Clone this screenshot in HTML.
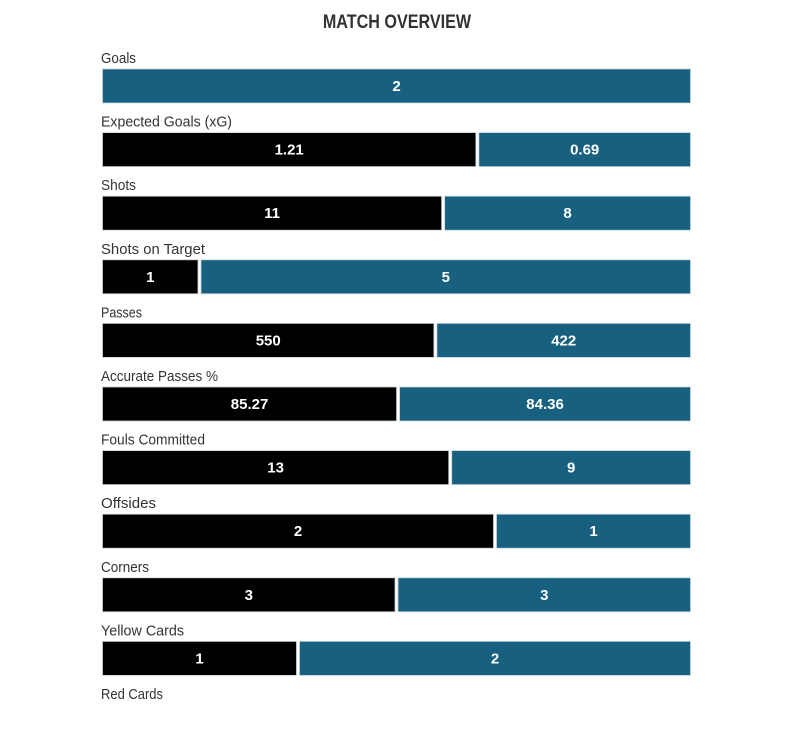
<!DOCTYPE html>
<html><head><meta charset="utf-8">
<style>
html,body{margin:0;padding:0;background:#fff;}
svg{display:block;font-family:"Liberation Sans",sans-serif;}
</style></head>
<body>
<svg id="chart" width="794" height="746">
<text x="397" y="28" text-anchor="middle" font-size="19" font-weight="bold" fill="#333" transform="translate(397,0) scale(0.85,1) translate(-397,0)">MATCH OVERVIEW</text>
</svg>
<script>
const categories = ["Goals","Expected Goals (xG)","Shots","Shots on Target","Passes","Accurate Passes %","Fouls Committed","Offsides","Corners","Yellow Cards","Red Cards"];
const homeValues = [0,1.21,11,1,550,85.27,13,2,3,1,0];
const awayValues = [2,0.69,8,5,422,84.36,9,1,3,2,0];
const homeLabels = ["0","1.21","11","1","550","85.27","13","2","3","1","0"];
const awayLabels = ["2","0.69","8","5","422","84.36","9","1","3","2","0"];

const svg = document.getElementById('chart');
const NS = 'http://www.w3.org/2000/svg';
const x0 = 101, x1 = 692, rowTop = 69, rowStep = 63.6, barH = 34;
function xScale(frac){ return x0 + frac*(x1-x0); }
function yRow(i){ return rowTop + i*rowStep; }

categories.forEach((c,i)=>{
  const y = yRow(i);
  const lbl = document.createElementNS(NS,'text');
  
  
  lbl.setAttribute('x', x0);
  lbl.setAttribute('y', y-6);
  lbl.setAttribute('font-size','15');
  lbl.setAttribute('fill','#333');
  lbl.setAttribute('textLength', Math.round(c.length*6.9));
  lbl.setAttribute('lengthAdjust','spacingAndGlyphs');
  lbl.textContent = c;
  svg.appendChild(lbl);
  const tot = homeValues[i] + awayValues[i];
  if (tot <= 0) return;
  const split = xScale(homeValues[i]/tot);
  const parts = [[x0, split, '#000', homeLabels[i], homeValues[i], 'home-bar'],[split, x1, '#17607f', awayLabels[i], awayValues[i], 'away-bar']];
  parts.forEach(p=>{
    if (p[4] <= 0) return;
    const r = document.createElementNS(NS,'rect');
    
    
    r.setAttribute('x', p[0]+1.5);
    r.setAttribute('y', y);
    r.setAttribute('width', Math.max(0,p[1]-p[0]-3));
    r.setAttribute('height', barH);
    r.setAttribute('fill', p[2]);
    r.setAttribute('stroke','#c8d4da');
    r.setAttribute('stroke-width','0.8');
    svg.appendChild(r);
    const t = document.createElementNS(NS,'text');
    
    
    t.setAttribute('x', (p[0]+p[1])/2);
    t.setAttribute('y', y+barH/2+5);
    t.setAttribute('text-anchor','middle');
    t.setAttribute('font-size','15');
    t.setAttribute('font-weight','bold');
    t.setAttribute('fill','#fff');
    t.textContent = p[3];
    svg.appendChild(t);
  });
});
</script>
</body></html>
